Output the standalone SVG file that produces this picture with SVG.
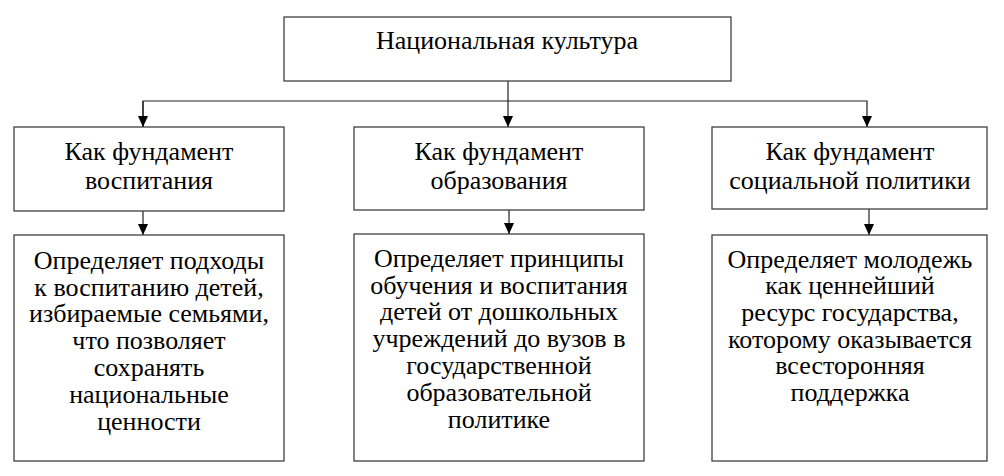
<svg xmlns="http://www.w3.org/2000/svg" width="1004" height="476" viewBox="0 0 1004 476">
<style>
.box{fill:#fff;stroke:#404040;stroke-width:1.3}
.t{font-family:"Liberation Serif","Times New Roman","DejaVu Serif",serif;font-size:26px;fill:#000;text-anchor:middle}
.c{fill:none;stroke:#202020;stroke-width:1.2}
</style>
<defs>
<marker id="ah" markerUnits="userSpaceOnUse" markerWidth="11" markerHeight="13" refX="12" refY="5.5" orient="auto" viewBox="0 0 12 11">
<path d="M0,0 L12,5.5 L0,11 z" fill="#000"/>
</marker>
</defs>
<rect width="1004" height="476" fill="#fff"/>
<g id="connectors">
<line class="c" x1="508" y1="81" x2="508" y2="127" marker-end="url(#ah)"/>
<polyline class="c" points="143,127 143,101 867,101 867,127" marker-end="url(#ah)"/>
<line class="c" x1="143" y1="101" x2="143" y2="127" marker-end="url(#ah)"/>
<line class="c" x1="143" y1="211" x2="143" y2="235" marker-end="url(#ah)"/>
<line class="c" x1="509" y1="210" x2="509" y2="234" marker-end="url(#ah)"/>
<line class="c" x1="869" y1="209" x2="869" y2="235" marker-end="url(#ah)"/>
</g>
<g id="root">
<rect class="box" x="284" y="17" width="447" height="64"/>
<text class="t" x="507" y="49">Национальная культура</text>
</g>
<g id="f1">
<rect class="box" x="14" y="127" width="270" height="84"/>
<text class="t" x="149" y="160">Как фундамент</text>
<text class="t" x="149" y="189">воспитания</text>
</g>
<g id="f2">
<rect class="box" x="354" y="127" width="290" height="83"/>
<text class="t" x="499" y="160">Как фундамент</text>
<text class="t" x="499" y="189">образования</text>
</g>
<g id="f3">
<rect class="box" x="712" y="127" width="275" height="82"/>
<text class="t" x="850" y="160">Как фундамент</text>
<text class="t" x="850" y="189">социальной политики</text>
</g>
<g id="d1">
<rect class="box" x="14" y="235" width="270" height="226"/>
<text class="t" x="149" y="269">Определяет подходы</text>
<text class="t" x="149" y="296">к воспитанию детей,</text>
<text class="t" x="149" y="322">избираемые семьями,</text>
<text class="t" x="149" y="349">что позволяет</text>
<text class="t" x="149" y="376">сохранять</text>
<text class="t" x="149" y="403">национальные</text>
<text class="t" x="149" y="430">ценности</text>
</g>
<g id="d2">
<rect class="box" x="354" y="234" width="290" height="227"/>
<text class="t" x="499" y="267">Определяет принципы</text>
<text class="t" x="499" y="294">обучения и воспитания</text>
<text class="t" x="499" y="320">детей от дошкольных</text>
<text class="t" x="499" y="347">учреждений до вузов в</text>
<text class="t" x="499" y="374">государственной</text>
<text class="t" x="499" y="401">образовательной</text>
<text class="t" x="499" y="428">политике</text>
</g>
<g id="d3">
<rect class="box" x="712" y="235" width="275" height="226"/>
<text class="t" x="850" y="268">Определяет молодежь</text>
<text class="t" x="850" y="294">как ценнейший</text>
<text class="t" x="850" y="321">ресурс государства,</text>
<text class="t" x="850" y="348">которому оказывается</text>
<text class="t" x="850" y="374">всесторонняя</text>
<text class="t" x="850" y="401">поддержка</text>
</g>
</svg>
